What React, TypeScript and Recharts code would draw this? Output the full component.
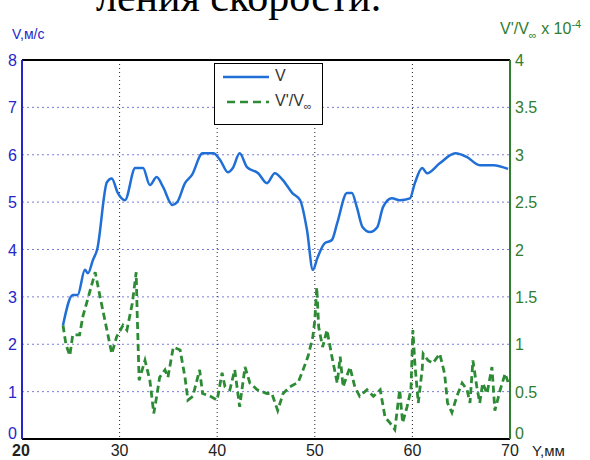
import React from 'react';
import { LineChart, Line, XAxis, YAxis, CartesianGrid, ReferenceLine } from 'recharts';

// Y, mm positions and velocity V, m/s
const vX = [24.2, 25.2, 25.7, 26.45, 26.76, 27.27, 27.7, 28.7, 29.2, 29.8, 30.55, 31.6, 32.4, 33.1, 33.8, 34.45, 35.4, 35.9, 36.7, 37.4, 38.5, 39.6, 40.3, 41.1, 41.6, 42.3, 43.05, 44.2, 45.1, 45.9, 46.75, 47.7, 48.5, 49.2, 49.8, 50.3, 51.0, 51.75, 52.3, 53.3, 53.8, 54.3, 54.9, 55.65, 56.4, 57.0, 57.9, 58.7, 59.75, 60.25, 61.0, 61.5, 62.8, 64.4, 65.6, 66.9, 68.3, 69.8];
const vVal = [2.4, 3.04, 3.04, 3.57, 3.5, 3.78, 4.0, 5.42, 5.5, 5.2, 5.04, 5.72, 5.72, 5.36, 5.53, 5.32, 4.94, 5.0, 5.4, 5.57, 6.03, 6.03, 5.89, 5.63, 5.72, 6.03, 5.74, 5.61, 5.4, 5.61, 5.46, 5.19, 5.04, 4.41, 3.57, 3.84, 4.13, 4.2, 4.56, 5.19, 5.19, 4.9, 4.47, 4.37, 4.47, 4.9, 5.08, 5.04, 5.08, 5.4, 5.72, 5.61, 5.82, 6.03, 5.95, 5.78, 5.78, 5.7];

// Y, mm positions and V'/Vinf x 1e-4
const rX = [24.2, 24.5, 24.9, 25.2, 25.9, 26.25, 26.8, 27.5, 28.0, 28.5, 29.2, 29.7, 30.35, 30.75, 31.3, 31.7, 31.8, 32.0, 32.6, 33.1, 33.5, 33.8, 34.1, 34.65, 34.95, 35.5, 36.2, 36.7, 37.0, 37.5, 38.2, 38.5, 39.3, 40.0, 40.5, 40.8, 41.3, 41.8, 42.3, 42.85, 43.35, 44.1, 45.1, 45.6, 46.2, 46.75, 47.45, 48.3, 48.8, 49.3, 49.8, 50.0, 50.2, 50.4, 50.8, 51.25, 51.75, 52.3, 52.6, 52.9, 53.6, 54.1, 54.6, 55.35, 56.0, 56.7, 57.2, 57.7, 58.2, 58.7, 59.0, 59.45, 59.85, 60.05, 60.25, 60.6, 61.0, 61.1, 61.6, 62.1, 62.8, 63.3, 63.6, 64.05, 64.55, 65.1, 65.6, 65.9, 66.2, 66.6, 66.9, 67.2, 67.65, 68.15, 68.45, 69.0, 69.5, 69.8];
const rVal = [1.2, 1.0, 0.88, 1.1, 1.1, 1.3, 1.5, 1.76, 1.5, 1.25, 0.9, 1.08, 1.2, 1.15, 1.43, 1.76, 1.33, 0.62, 0.83, 0.62, 0.27, 0.45, 0.65, 0.73, 0.65, 0.97, 0.94, 0.65, 0.41, 0.45, 0.73, 0.48, 0.45, 0.41, 0.7, 0.55, 0.52, 0.73, 0.34, 0.76, 0.59, 0.52, 0.48, 0.48, 0.3, 0.48, 0.55, 0.6, 0.73, 0.87, 1.08, 1.25, 1.6, 1.18, 0.97, 1.15, 0.87, 0.59, 0.87, 0.55, 0.76, 0.55, 0.45, 0.52, 0.45, 0.52, 0.23, 0.17, 0.1, 0.52, 0.17, 0.34, 0.52, 1.15, 0.8, 0.38, 0.73, 0.9, 0.83, 0.8, 0.9, 0.69, 0.38, 0.28, 0.45, 0.59, 0.52, 0.38, 0.83, 0.55, 0.38, 0.59, 0.48, 0.76, 0.3, 0.52, 0.69, 0.6];

const xTicks = [20, 30, 40, 50, 60, 70];
const leftTicks = [0, 1, 2, 3, 4, 5, 6, 7, 8];
const rightTicks = [0, 0.5, 1, 1.5, 2, 2.5, 3, 3.5, 4];

const BLUE = '#1f6fd6';
const GREEN = '#2e8b35';
const AXIS_BLUE = '#2626c8';
const AXIS_GREEN = '#2f7d2f';

type Row = { y: number; v?: number; r?: number };

const rowMap = new Map<number, Row>();
vX.forEach((x, i) => {
  const row = rowMap.get(x) || { y: x };
  row.v = vVal[i];
  rowMap.set(x, row);
});
rX.forEach((x, i) => {
  const row = rowMap.get(x) || { y: x };
  row.r = rVal[i];
  rowMap.set(x, row);
});
const data = Array.from(rowMap.values()).sort((a, b) => a.y - b.y);

const FONT = 'Liberation Sans, Arial, sans-serif';
const tickFont = { fontFamily: FONT, fontSize: 16 };

// y tick: the zero label sits a little above the x axis, as in the original
const YTick = (props: any) => {
  const { x, y, payload, textAnchor, fill } = props;
  const lift = payload.value === 0 ? -6 : 0;
  return (
    <text x={x} y={y + lift} dy={6} textAnchor={textAnchor} fill={fill} fontFamily={FONT} fontSize={16}>
      {payload.value}
    </text>
  );
};

const XTick = (props: any) => {
  const { x, y, payload } = props;
  const first = payload.value === 20;
  return (
    <text
      x={first ? x - 1 : x}
      y={y}
      dy={14}
      textAnchor="middle"
      fill="#222"
      fontFamily={FONT}
      fontSize={16}
      fontWeight={first ? 'bold' : 'normal'}
    >
      {payload.value}
    </text>
  );
};

const App: React.FC = () => {
  return (
    <div style={{ position: 'absolute', left: 0, top: 0, width: 590, height: 460, background: '#fff', overflow: 'hidden' }}>
      <div
        style={{
          position: 'absolute',
          left: 96,
          top: -24,
          fontFamily: 'Liberation Serif, Times New Roman, serif',
          fontSize: 42,
          lineHeight: '42px',
          whiteSpace: 'nowrap',
          color: '#000',
        }}
      >
        ления скорости.
      </div>
      <LineChart width={590} height={460} data={data} margin={{ top: 60, right: 0, bottom: 0, left: 0 }}>
        <CartesianGrid yAxisId="left" vertical={false} stroke="#7c7cd8" strokeDasharray="2 3" />
        <CartesianGrid yAxisId="left" horizontal={false} stroke="#222" strokeDasharray="1 3" />
        <XAxis
          dataKey="y"
          type="number"
          domain={[20, 70]}
          ticks={xTicks}
          height={21}
          axisLine={{ stroke: '#000', strokeWidth: 2 }}
          tickLine={false}
          tickSize={2}
          tickMargin={1}
          tick={<XTick />}
        />
        <YAxis
          yAxisId="left"
          domain={[0, 8]}
          ticks={leftTicks}
          width={22}
          axisLine={{ stroke: AXIS_BLUE, strokeWidth: 2 }}
          tickLine={false}
          tickSize={4}
          tickMargin={1}
          tick={<YTick fill={AXIS_BLUE} />}
        />
        <YAxis
          yAxisId="right"
          orientation="right"
          domain={[0, 4]}
          ticks={rightTicks}
          width={80}
          axisLine={{ stroke: AXIS_GREEN, strokeWidth: 2 }}
          tickLine={false}
          tickSize={4}
          tickMargin={1}
          tick={<YTick fill={AXIS_GREEN} />}
        />
        <ReferenceLine yAxisId="left" y={8} stroke="#000" strokeWidth={2} />
        <Line
          yAxisId="left"
          type="monotone"
          dataKey="v"
          stroke={BLUE}
          strokeWidth={2.5}
          dot={false}
          connectNulls
          isAnimationActive={false}
        />
        <Line
          yAxisId="right"
          type="linear"
          dataKey="r"
          stroke={GREEN}
          strokeWidth={2.8}
          strokeDasharray="7 4"
          dot={false}
          connectNulls
          isAnimationActive={false}
        />
      </LineChart>
      {/* axis titles */}
      <div style={{ position: 'absolute', left: 12, top: 26, fontFamily: FONT, fontSize: 14, color: AXIS_BLUE }}>V,м/с</div>
      <div style={{ position: 'absolute', left: 500, top: 18, fontFamily: FONT, fontSize: 16, color: AXIS_GREEN, whiteSpace: 'nowrap' }}>
        V'/V<sub style={{ fontSize: 11 }}>∞</sub> x 10<sup style={{ fontSize: 11 }}>-4</sup>
      </div>
      <div style={{ position: 'absolute', left: 532, top: 442, fontFamily: FONT, fontSize: 15, color: '#222' }}>Y,мм</div>
      {/* legend */}
      <div
        style={{
          position: 'absolute',
          left: 214,
          top: 63,
          width: 107,
          height: 60,
          border: '1.5px solid #000',
          background: '#fff',
          fontFamily: FONT,
          fontSize: 16,
        }}
      >
        <svg width={50} height={60} style={{ position: 'absolute', left: 6, top: 0 }}>
          <line x1={2} x2={48} y1={13} y2={13} stroke={BLUE} strokeWidth={2.5} />
          <line x1={6} x2={48} y1={38} y2={38} stroke={GREEN} strokeWidth={2.5} strokeDasharray="8 5" />
        </svg>
        <div style={{ position: 'absolute', left: 60, top: 3, color: '#333' }}>V</div>
        <div style={{ position: 'absolute', left: 60, top: 28, color: '#333', whiteSpace: 'nowrap' }}>
          V'/V<sub style={{ fontSize: 11 }}>∞</sub>
        </div>
      </div>
    </div>
  );
};

export default App;
